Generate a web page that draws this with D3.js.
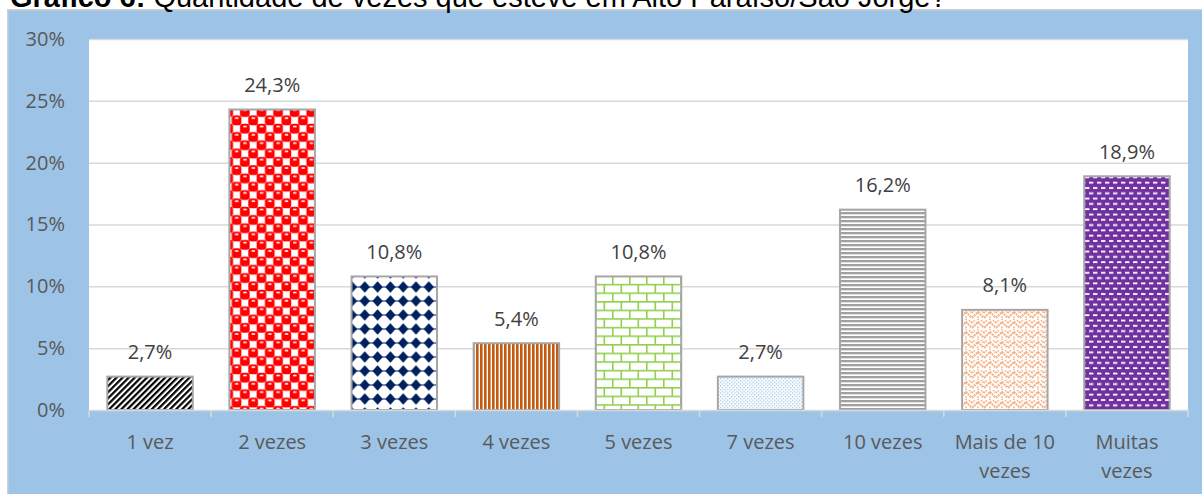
<!DOCTYPE html>
<html>
<head>
<meta charset="utf-8">
<script src="https://cdn.jsdelivr.net/npm/d3@7"></script>
<style>
  body { margin: 0; background: #fff; }
  svg { display: block; }
</style>
</head>
<body>
<div id="chart"></div>
<script>
// data
const categories = ["1 vez", "2 vezes", "3 vezes", "4 vezes", "5 vezes", "7 vezes", "10 vezes", "Mais de 10\nvezes", "Muitas\nvezes"];
const values = [2.7, 24.3, 10.8, 5.4, 10.8, 2.7, 16.2, 8.1, 18.9];
const yTicks = [0, 5, 10, 15, 20, 25, 30];
const titleBold = "Gráfico 6:";
const titleRest = " Quantidade de vezes que esteve em Alto Paraíso/São Jorge?";

const W = 1202, H = 494;
const plot = { left: 89, right: 1188, top: 39, bottom: 410 };

const svg = d3.select("#chart")
  .append("svg")
  .attr("width", W)
  .attr("height", H);

// ---- patterns (Excel-like pattern fills)
const defs = svg.append("defs");

function pattern(id, w, h, draw, transform) {
  let p = defs.append("pattern")
    .attr("id", id)
    .attr("patternUnits", "userSpaceOnUse")
    .attr("width", w)
    .attr("height", h);
  if (transform) p.attr("patternTransform", transform);
  p.append("rect").attr("width", w).attr("height", h).attr("fill", "#fff");
  draw(p, w, h);
}

// draw a rect with its wrapped copies so it tiles seamlessly
function wrapRect(p, w, h, x, y, rw, rh, fill, rx) {
  [-w, 0, w].forEach(ox => [-h, 0, h].forEach(oy => {
    p.append("rect")
      .attr("x", x + ox).attr("y", y + oy)
      .attr("width", rw).attr("height", rh)
      .attr("rx", rx || 0)
      .attr("fill", fill);
  }));
}

pattern("p0", 4.3, 4.3, p => {
  p.append("rect").attr("width", 2.2).attr("height", 4.3).attr("fill", "#000");
}, "rotate(45)");

pattern("p1", 16.6, 16.6, (p, w, h) => {
  [[0, 0], [8.3, 8.3]].forEach(([a, b]) => {
    wrapRect(p, w, h, a - 0.7, b - 0.7, 9.7, 9.7, "#FF0000", 3);
    wrapRect(p, w, h, a + 2.6, b + 1.2, 3.4, 1.6, "#fff");
  });
});

pattern("p2", 12.8, 14, (p, w, h) => {
  p.append("rect").attr("y", 6.5).attr("width", w).attr("height", 1).attr("fill", "#002060");
  p.append("path")
    .attr("d", `M${w / 2},1.2 L${w - 1.2},${h / 2} L${w / 2},${h - 1.2} L1.2,${h / 2}Z`)
    .attr("fill", "#002060");
});

pattern("p3", 4, 4, p => {
  p.append("rect").attr("width", 2.6).attr("height", 4).attr("fill", "#C55A11");
});

pattern("p4", 17, 17.2, (p, w, h) => {
  const c = "#92D050";
  p.append("rect").attr("y", 0).attr("width", w).attr("height", 1.6).attr("fill", c);
  p.append("rect").attr("y", h / 2).attr("width", w).attr("height", 1.6).attr("fill", c);
  p.append("rect").attr("x", 0).attr("width", 1.6).attr("height", h / 2).attr("fill", c);
  p.append("rect").attr("x", w / 2).attr("y", h / 2).attr("width", 1.6).attr("height", h / 2).attr("fill", c);
});

pattern("p5", 3.6, 3.6, p => {
  p.append("rect").attr("width", 1.3).attr("height", 1.3).attr("fill", "#9DC3E6");
  p.append("rect").attr("x", 1.8).attr("y", 1.8).attr("width", 1.3).attr("height", 1.3).attr("fill", "#9DC3E6");
});

pattern("p6", 4, 4, p => {
  p.append("rect").attr("width", 4).attr("height", 2.3).attr("fill", "#A0A0A0");
});

pattern("p7", 12, 10, (p, w, h) => {
  p.append("path")
    .attr("d", "M0,8 L6,2 L12,8 M-6,8 L0,2 M12,2 L18,8 M0,-2 L6,-8 M6,12 L12,18")
    .attr("fill", "none")
    .attr("stroke", "#F4B183")
    .attr("stroke-width", 2.2)
    .attr("stroke-dasharray", "2 0.8");
  p.append("path")
    .attr("d", "M0,3 L3,0 M9,0 L12,3 M6,6.5 L6,10")
    .attr("fill", "none")
    .attr("stroke", "#F4B183")
    .attr("stroke-width", 1.6)
    .attr("stroke-dasharray", "1.5 0.8");
});

pattern("p8", 8, 10.6, (p, w, h) => {
  p.select("rect").attr("fill", "#7030A0");
  wrapRect(p, w, h, 1, 1.6, 4.4, 1.8, "#fff");
  wrapRect(p, w, h, 5, 6.9, 4.4, 1.8, "#fff");
});

// ---- background
svg.append("rect")
  .attr("x", 7.75).attr("y", 9.75)
  .attr("width", W).attr("height", H)
  .attr("fill", "#9DC3E6")
  .attr("stroke", "#D0D0D0")
  .attr("stroke-width", 1.5);

svg.append("rect")
  .attr("x", plot.left).attr("y", plot.top)
  .attr("width", plot.right - plot.left)
  .attr("height", plot.bottom - plot.top)
  .attr("fill", "#fff");

// title, partly cut off by the top of the page as in the source
svg.append("text")
  .attr("x", 10).attr("y", 7)
  .style("font-family", "'Liberation Sans', Arial, sans-serif")
  .style("font-size", "29px")
  .attr("fill", "#000")
  .call(t => {
    t.append("tspan").attr("font-weight", "bold").text(titleBold);
    t.append("tspan").text(titleRest);
  });

// ---- scales
let x = d3.scaleBand()
  .domain(categories)
  .range([plot.left, plot.right])
  .paddingInner(0.3)
  .paddingOuter(0.15);

let y = d3.scaleLinear()
  .domain([0, 30])
  .range([plot.bottom, plot.top]);

const font = "'Open Sans', 'Noto Sans', sans-serif";

// gridlines
svg.append("g")
  .attr("transform", "translate(" + plot.left + ",0)")
  .call(d3.axisLeft(y).tickValues(yTicks.slice(1)).tickSize(-(plot.right - plot.left)).tickFormat(""))
  .call(g => g.select(".domain").remove())
  .call(g => g.selectAll("line").attr("stroke", "#D9D9D9").attr("stroke-width", 1.5));

// y labels
svg.append("g")
  .attr("transform", "translate(" + plot.left + ",0)")
  .call(d3.axisLeft(y).tickValues(yTicks).tickSize(0).tickPadding(24).tickFormat(d => d + "%"))
  .call(g => g.select(".domain").remove())
  .call(g => g.selectAll("text")
    .style("font-family", font)
    .style("font-size", "20px")
    .attr("fill", "#595959"));

// bars
svg.selectAll(".bar")
  .data(values)
  .enter()
  .append("rect")
  .attr("class", "bar")
  .attr("x", (d, i) => x(categories[i]))
  .attr("y", d => y(d))
  .attr("width", x.bandwidth())
  .attr("height", d => y(0) - y(d))
  .attr("fill", (d, i) => "url(#p" + i + ")")
  .attr("stroke", "#A6A6A6")
  .attr("stroke-width", 2);

// data labels
svg.selectAll(".lbl")
  .data(values)
  .enter()
  .append("text")
  .attr("class", "lbl")
  .attr("x", (d, i) => x(categories[i]) + x.bandwidth() / 2)
  .attr("y", d => y(d) - 17.5)
  .attr("text-anchor", "middle")
  .style("font-family", font)
  .style("font-size", "20px")
  .attr("fill", "#404040")
  .text(d => d.toFixed(1).replace(".", ",") + "%");

// x axis
let xAxis = svg.append("g")
  .attr("transform", "translate(0," + plot.bottom + ")")
  .call(d3.axisBottom(x).tickSize(0).tickPadding(0));

xAxis.select(".domain").attr("stroke", "#D9D9D9").attr("stroke-width", 1.5);

xAxis.selectAll(".tick text")
  .style("font-family", font)
  .style("font-size", "20px")
  .attr("fill", "#595959")
  .attr("dy", null)
  .attr("y", 38.5)
  .each(function (d) {
    let t = d3.select(this).text("");
    d.split("\n").forEach((line, k) => {
      t.append("tspan").attr("x", 0).attr("dy", k ? 29 : 0).text(line);
    });
  });

// tick marks at the band edges
const step = x.step();
xAxis.selectAll(".edge")
  .data(d3.range(categories.length + 1))
  .enter()
  .append("line")
  .attr("class", "edge")
  .attr("x1", i => x.range()[0] + i * step)
  .attr("x2", i => x.range()[0] + i * step)
  .attr("y1", 0)
  .attr("y2", 7)
  .attr("stroke", "#D9D9D9")
  .attr("stroke-width", 1.5);
</script>
</body>
</html>
